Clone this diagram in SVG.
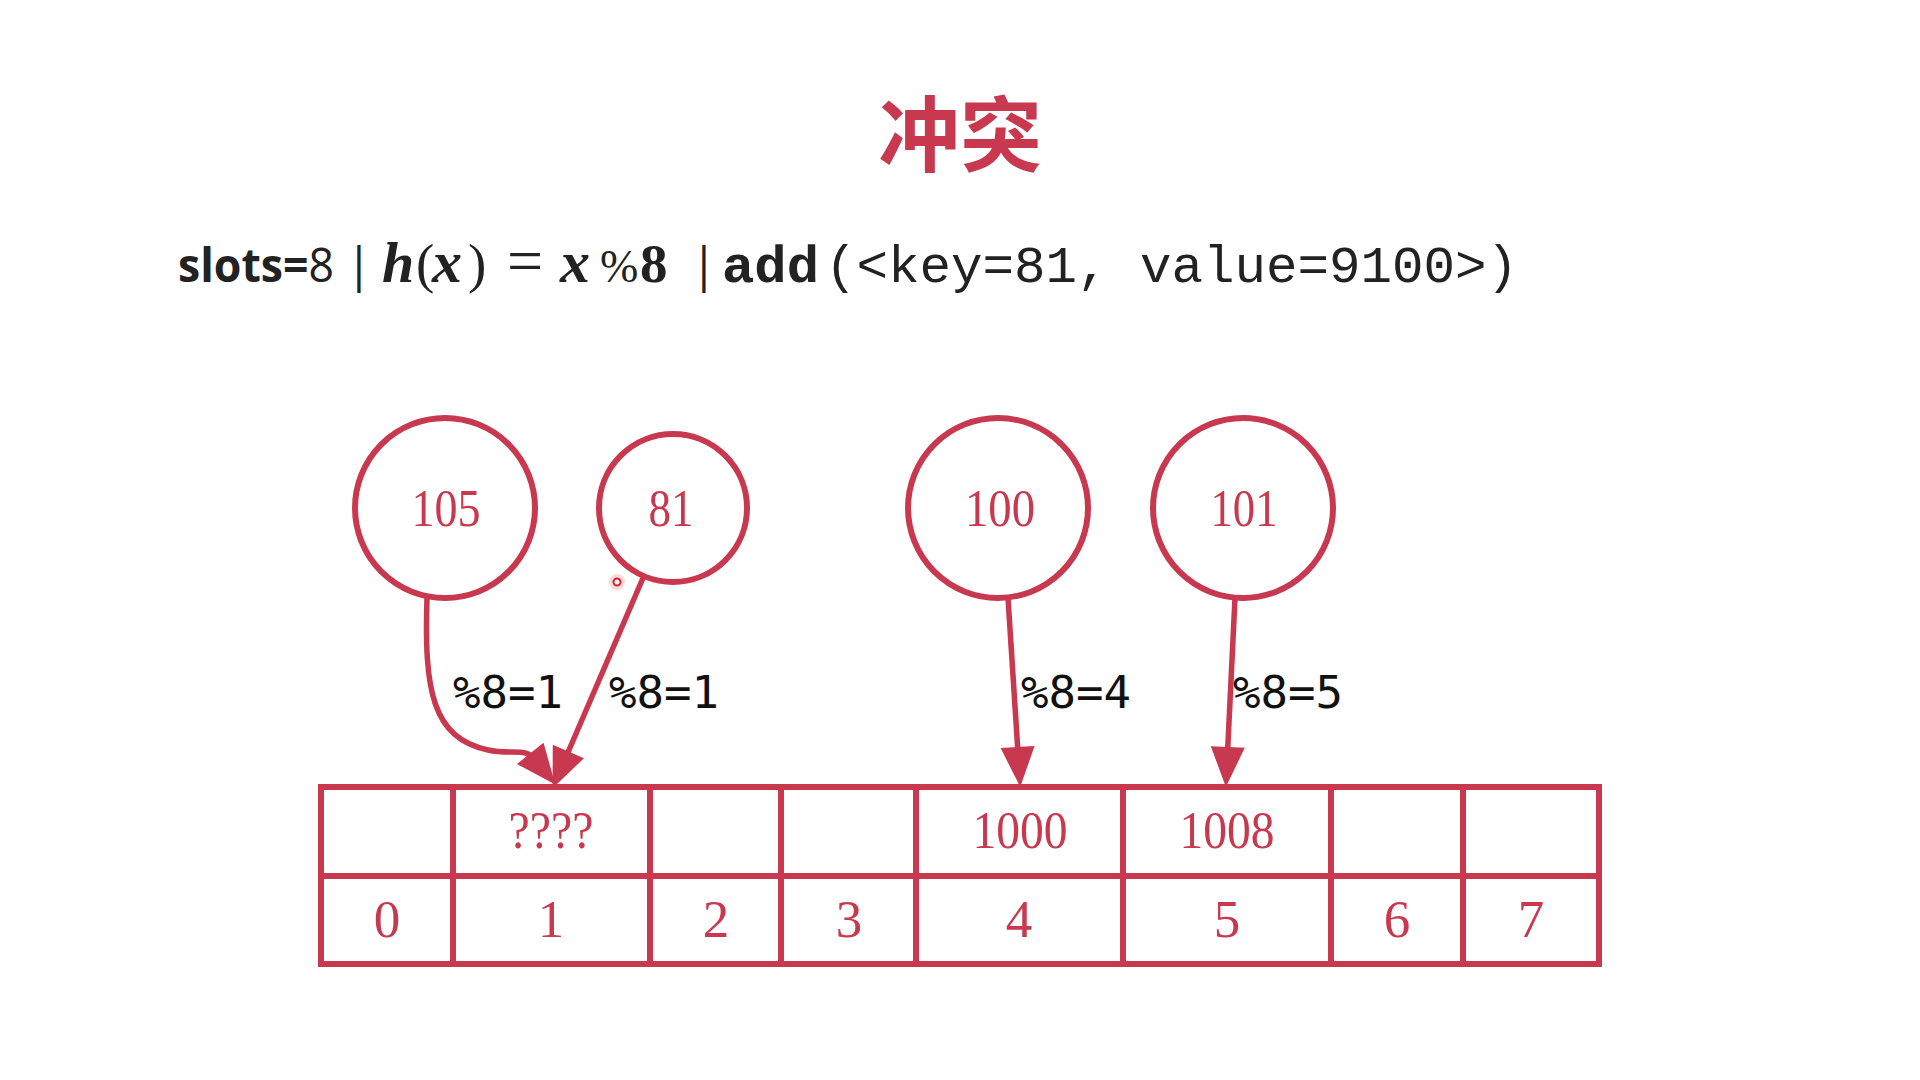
<svg xmlns="http://www.w3.org/2000/svg" width="1920" height="1080" viewBox="0 0 1920 1080">
<defs>
<style>
.title{font-family:"Noto Sans CJK SC","Noto Sans",sans-serif;font-weight:700;font-size:82px;fill:#C8384F;text-anchor:middle}
.sans{font-family:"Open Sans","Liberation Sans",sans-serif;font-size:47px;fill:#222}
.math{font-family:"Liberation Serif","DejaVu Serif",serif;font-size:55px;fill:#222}
.mono{font-family:"Liberation Mono","DejaVu Sans Mono",monospace;font-size:52.5px;fill:#222}
.node circle{fill:#fff;stroke:#C8384F;stroke-width:6}
.ntext{font-family:"Liberation Serif","Times New Roman",serif;font-size:53px;fill:#C8384F;text-anchor:middle}
.cell{fill:none;stroke:#C8384F;stroke-width:6}
.edge{fill:none;stroke:#C8384F;stroke-width:5.5}
.elabel{font-family:"DejaVu Sans Mono","Liberation Mono",monospace;font-size:45px;fill:#111}
</style>
<marker id="arrow" markerUnits="userSpaceOnUse" markerWidth="42" markerHeight="36" refX="6" refY="17" orient="auto" overflow="visible">
<path d="M0,0 L40,17 L0,34 Z" fill="#C8384F"/>
</marker>
</defs>
<rect width="1920" height="1080" fill="#fff"/>

<text class="title" x="960" y="165">冲突</text>

<g id="formula">
<text class="sans" x="0" y="0" transform="translate(178,282) scale(0.95,1)"><tspan font-weight="700">slots=</tspan>8</text>
<text class="sans" x="346" y="282">|</text>
<text class="math" y="282"><tspan x="382" font-size="58" font-weight="700" font-style="italic">h</tspan><tspan x="416">(</tspan><tspan x="432" font-size="60" font-weight="700" font-style="italic">x</tspan><tspan x="468">)</tspan><tspan x="507" font-size="64">=</tspan><tspan x="560" font-size="60" font-weight="700" font-style="italic">x</tspan><tspan x="600" font-size="46">%</tspan><tspan x="640" font-weight="700">8</tspan></text>
<text class="sans" x="691" y="282">|</text>
<text class="mono" x="722" y="282" font-weight="700" textLength="97" lengthAdjust="spacingAndGlyphs">add</text>
<text class="mono" x="825" y="282" textLength="693" lengthAdjust="spacingAndGlyphs">(&lt;key=81, value=9100&gt;)</text>
</g>

<g id="node-105" class="node"><circle cx="445" cy="508" r="90"/><text class="ntext" x="446" y="526" textLength="69" lengthAdjust="spacingAndGlyphs">105</text></g>
<g id="node-81" class="node"><circle cx="673" cy="508" r="74"/><text class="ntext" x="671" y="526" textLength="45" lengthAdjust="spacingAndGlyphs">81</text></g>
<g id="node-100" class="node"><circle cx="998" cy="508" r="90"/><text class="ntext" x="1000" y="526" textLength="70" lengthAdjust="spacingAndGlyphs">100</text></g>
<g id="node-101" class="node"><circle cx="1243" cy="508" r="90"/><text class="ntext" x="1244" y="526" textLength="67" lengthAdjust="spacingAndGlyphs">101</text></g>

<g id="table">
<rect class="cell" x="321" y="787" width="1278" height="177"/>
<line class="cell" x1="321" y1="876" x2="1599" y2="876"/>
<line class="cell" x1="453" y1="787" x2="453" y2="964"/>
<line class="cell" x1="650" y1="787" x2="650" y2="964"/>
<line class="cell" x1="781" y1="787" x2="781" y2="964"/>
<line class="cell" x1="916" y1="787" x2="916" y2="964"/>
<line class="cell" x1="1123" y1="787" x2="1123" y2="964"/>
<line class="cell" x1="1331" y1="787" x2="1331" y2="964"/>
<line class="cell" x1="1463" y1="787" x2="1463" y2="964"/>
<text class="ntext" x="551" y="848" textLength="85" lengthAdjust="spacingAndGlyphs">????</text>
<text class="ntext" x="1020" y="848" textLength="95" lengthAdjust="spacingAndGlyphs">1000</text>
<text class="ntext" x="1227" y="848" textLength="95" lengthAdjust="spacingAndGlyphs">1008</text>
<text class="ntext" x="387" y="937">0</text>
<text class="ntext" x="551" y="937">1</text>
<text class="ntext" x="716" y="937">2</text>
<text class="ntext" x="849" y="937">3</text>
<text class="ntext" x="1019" y="937">4</text>
<text class="ntext" x="1227" y="937">5</text>
<text class="ntext" x="1397" y="937">6</text>
<text class="ntext" x="1531" y="937">7</text>
</g>

<g id="connectors">
<path class="edge" d="M427,598 C424,690 432,738 488,750 C510,755 526,748 534,758" marker-end="url(#arrow)"/>
<path class="edge" d="M643,578 L566,757" marker-end="url(#arrow)"/>
<path class="edge" d="M1008,598 L1018,753" marker-end="url(#arrow)"/>
<path class="edge" d="M1235,598 L1227.5,753" marker-end="url(#arrow)"/>
<text class="elabel" x="453" y="708" textLength="110" lengthAdjust="spacingAndGlyphs">%8=1</text>
<text class="elabel" x="609" y="708" textLength="110" lengthAdjust="spacingAndGlyphs">%8=1</text>
<text class="elabel" x="1021" y="708" textLength="110" lengthAdjust="spacingAndGlyphs">%8=4</text>
<text class="elabel" x="1233" y="708" textLength="110" lengthAdjust="spacingAndGlyphs">%8=5</text>
</g>

<g id="pointer">
<circle cx="617" cy="582" r="8" fill="#ff6b6b" opacity="0.25"/>
<circle cx="617" cy="582" r="3.5" fill="#fff" stroke="#e0202a" stroke-width="2"/>
</g>
</svg>
